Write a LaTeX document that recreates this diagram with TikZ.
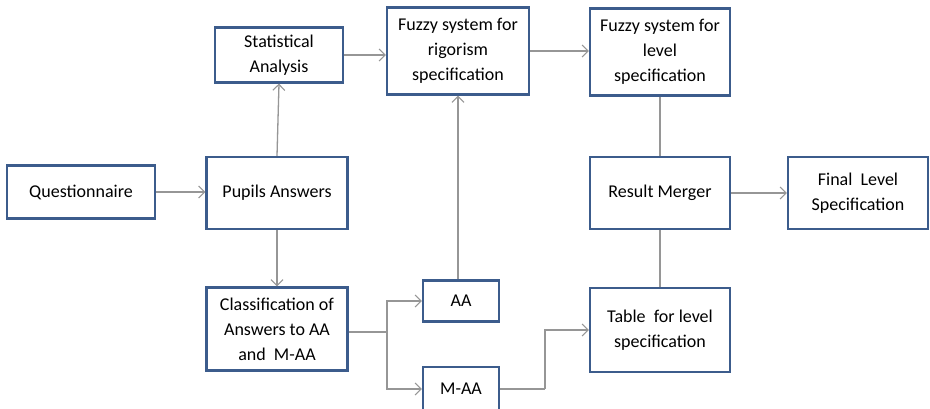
\documentclass[tikz,border=0pt]{standalone}
\usepackage{fontspec}
\setmainfont{Carlito}
\usetikzlibrary{arrows.meta}
\definecolor{boxblue}{RGB}{60,92,140}
\definecolor{linkgray}{RGB}{150,150,150}
\tikzset{
  blk/.style={draw=boxblue, line width=2.2pt, fill=white, align=center,
    font=\fontsize{18}{25}\selectfont, inner sep=0pt, text=black},
  link/.style={draw=linkgray, line width=1.3pt},
  arr/.style={link, -{Straight Barb[length=6pt,width=12pt,line width=1.1pt]}}
}
\begin{document}
\begin{tikzpicture}[x=1pt,y=-1pt]
\useasboundingbox (0,0) rectangle (930,409);
\clip (0,0) rectangle (930,409);
\fill[white] (0,0) rectangle (930,409);

\node[blk, minimum width=148pt, minimum height=53pt] (quest) at (81,192) {Questionnaire};
\node[blk, minimum width=141pt, minimum height=72pt] (pupils) at (277,193) {Pupils Answers};
\node[blk, minimum width=128pt, minimum height=55pt] (stat) at (279,55) {Statistical\\Analysis};
\node[blk, minimum width=142pt, minimum height=87pt] (fuzr) at (458,51) {Fuzzy system for\\rigorism\\specification};
\node[blk, minimum width=140pt, minimum height=87pt] (fuzl) at (660,52) {Fuzzy system for\\level\\specification};
\node[blk, minimum width=140pt, minimum height=72pt] (merge) at (660,193) {Result Merger};
\node[blk, minimum width=140pt, minimum height=72pt] (final) at (858,193) {Final~ Level\\Specification};
\node[blk, minimum width=141pt, minimum height=83pt] (class) at (277,329) {Classification of\\Answers to AA\\and~ M-AA};
\node[blk, minimum width=76pt, minimum height=41pt] (aa) at (461,301) {AA};
\node[blk, minimum width=76pt, minimum height=44pt] (maa) at (461,389) {M-AA};
\node[blk, minimum width=140pt, minimum height=84pt] (table) at (660,330) {Table~ for level\\specification};

\coordinate (split) at (387,332);
\coordinate (bend) at (545,389);

\draw[arr] (quest.east) -- (quest.east -| pupils.west);
\draw[arr] (pupils.north) -- (stat.south);
\draw[arr] (pupils.south) -- (class.north);
\draw[arr] (stat.east) -- (stat.east -| fuzr.west);
\draw[arr] (fuzr.east) -- (fuzr.east -| fuzl.west);
\draw[arr] (aa.north -| fuzr.south) -- (fuzr.south);
\draw[link] (fuzl.south) -- (merge.north);
\draw[link] (table.north) -- (merge.south);
\draw[arr] (merge.east) -- (final.west);
\draw[link] (class.east |- split) -- (split);
\draw[arr] (split) |- (aa.west);
\draw[arr] (split) |- (maa.west);
\draw[link] (maa.east) -- (bend);
\draw[arr] (bend) |- (table.west);
\end{tikzpicture}
\end{document}
